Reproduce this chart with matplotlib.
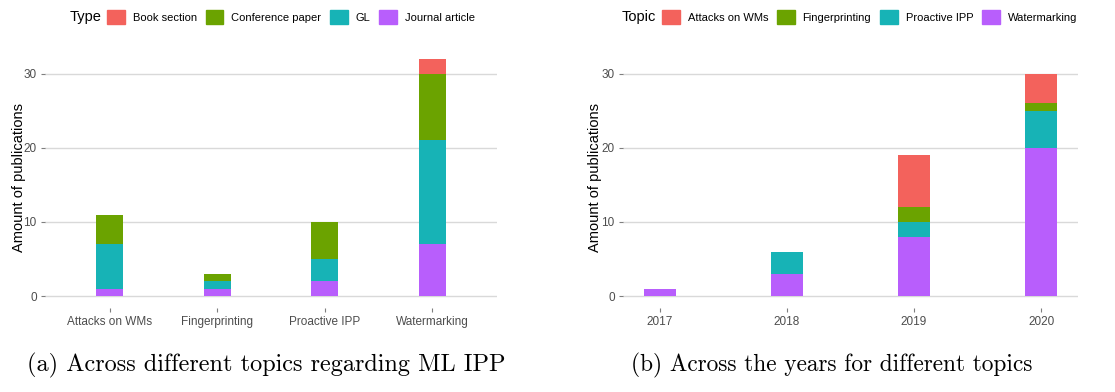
import matplotlib.pyplot as plt
from matplotlib.patches import Patch

# data
topics = ['Attacks on WMs', 'Fingerprinting', 'Proactive IPP', 'Watermarking']
journal = [1, 1, 2, 7]
gl = [6, 1, 3, 14]
conf = [4, 1, 5, 9]
book = [0, 0, 0, 2]

years = [2017, 2018, 2019, 2020]
watermarking = [1, 3, 8, 20]
proactive = [0, 3, 2, 5]
fingerprinting = [0, 0, 2, 1]
attacks = [0, 0, 7, 4]

c_red, c_green, c_teal, c_purple = '#F3625C', '#6BA300', '#17B3B6', '#B85EFC'
grid_c = '#D9D9D9'
tick_c = '#4D4D4D'

plt.rcParams['font.family'] = ['Liberation Sans', 'DejaVu Sans']

fig = plt.figure(figsize=(11.15, 3.92), dpi=100)
ax1 = fig.add_axes([45/1115, 1-308/392, 452/1115, 261/392])
ax2 = fig.add_axes([623/1115, 1-308/392, 455/1115, 261/392])


def style(ax, pad):
    for s in ax.spines.values():
        s.set_visible(False)
    ax.set_ylim(-1.6, 33.6)
    ax.set_yticks([0, 10, 20, 30])
    ax.yaxis.grid(True, color=grid_c, lw=1.0)
    ax.xaxis.grid(False)
    ax.set_axisbelow(True)
    ax.tick_params(length=3, width=0.8, color='#7F7F7F', labelcolor=tick_c,
                   labelsize=8.5, pad=3)
    ax.set_ylabel('Amount of publications', fontsize=10.5, color='black', labelpad=pad)


# (a) stacked by type
x = list(range(len(topics)))
w = 0.25
b1 = journal
b2 = [a + b for a, b in zip(b1, gl)]
b3 = [a + b for a, b in zip(b2, conf)]
ax1.bar(x, journal, w, color=c_purple)
ax1.bar(x, gl, w, bottom=b1, color=c_teal)
ax1.bar(x, conf, w, bottom=b2, color=c_green)
ax1.bar(x, book, w, bottom=b3, color=c_red)
ax1.set_xlim(-0.6, 3.6)
ax1.set_xticks(x)
ax1.set_xticklabels(topics)
style(ax1, -1.5)

# (b) stacked by topic over years
d1 = watermarking
d2 = [a + b for a, b in zip(d1, proactive)]
d3 = [a + b for a, b in zip(d2, fingerprinting)]
ax2.bar(years, watermarking, w, color=c_purple)
ax2.bar(years, proactive, w, bottom=d1, color=c_teal)
ax2.bar(years, fingerprinting, w, bottom=d2, color=c_green)
ax2.bar(years, attacks, w, bottom=d3, color=c_red)
ax2.set_xlim(2016.71, 2020.29)
ax2.set_xticks(years)
ax2.set_xticklabels([str(y) for y in years])
style(ax2, -0.5)

# legends on top
leg_kw = dict(ncol=4, frameon=False, fontsize=8, handlelength=1.6, handleheight=1.6,
              handletextpad=0.7, columnspacing=0.8, borderaxespad=0, borderpad=0)
h1 = [Patch(color=c) for c in (c_red, c_green, c_teal, c_purple)]
fig.legend(h1, ['Book section', 'Conference paper', 'GL', 'Journal article'],
           loc='center left', bbox_to_anchor=(107/1115, 1-17/392), **leg_kw)
fig.text(70/1115, 1-17/392, 'Type', fontsize=10.5, va='center', ha='left')

fig.legend(h1, ['Attacks on WMs', 'Fingerprinting', 'Proactive IPP', 'Watermarking'],
           loc='center left', bbox_to_anchor=(662/1115, 1-17/392), **leg_kw)
fig.text(622/1115, 1-17/392, 'Topic', fontsize=10.5, va='center', ha='left')

# captions
fig.text(266/1115, 1-365/392, '(a) Across different topics regarding ML IPP',
         fontsize=17.5, family='cmr10', ha='center', va='center')
fig.text(832/1115, 1-365/392, '(b) Across the years for different topics',
         fontsize=16.8, family='cmr10', ha='center', va='center')

fig.savefig('out.png', dpi=100)
